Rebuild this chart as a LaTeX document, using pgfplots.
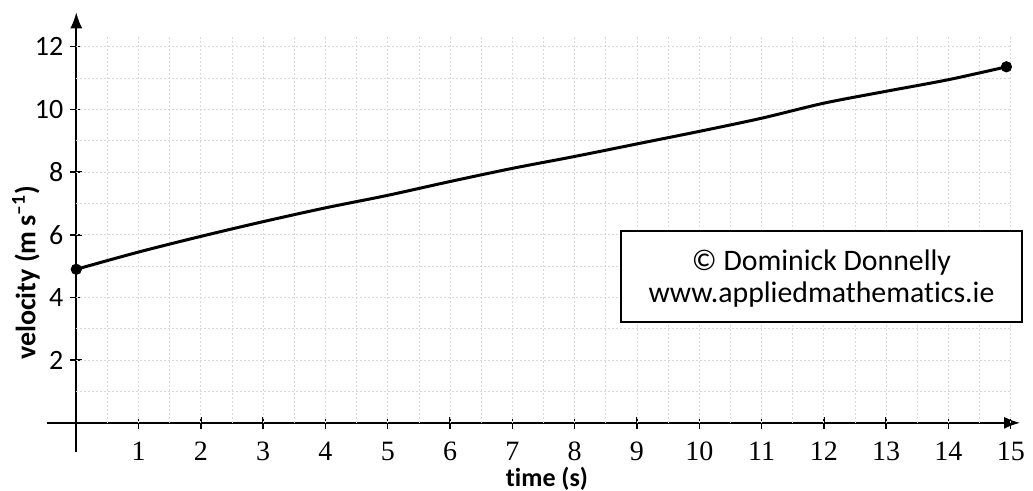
\documentclass[border=0pt]{standalone}
\usepackage{fontspec}
\setmainfont{Carlito}[RawFeature=-liga]
\newfontfamily\serifnum{Liberation Serif}
\usepackage{pgfplots}
\pgfplotsset{compat=1.18}
\usetikzlibrary{arrows.meta}
\begin{document}
\begin{tikzpicture}
\useasboundingbox (0,0) rectangle (516.5pt,245.5pt);
\begin{axis}[
  at={(23.5pt,19.5pt)}, anchor=south west,
  x=31.15pt, y=15.67pt,
  xmin=-0.47, xmax=15.15, ymin=-0.93, ymax=13.1,
  axis lines=middle,
  axis line style={line width=0.9pt, -{Latex[length=8pt,width=6pt]}},
  xtick={1,...,15}, ytick={2,4,...,12},
  /pgf/number format/assume math mode=true,
  xticklabel style={font=\serifnum\fontsize{14}{16}\selectfont, yshift=-3pt},
  yticklabel style={font=\fontsize{14}{16}\selectfont},
  tick style={black, line width=0.7pt},
  major tick length=6pt,
  tick align=center,
  clip=false,
]
\pgfplotsinvokeforeach{0.5,1,...,15}{
  \draw[gray!30, line width=0.4pt, dash pattern=on 1pt off 1pt] (axis cs:#1,0) -- (axis cs:#1,12.3);
}
\pgfplotsinvokeforeach{1,2,...,12}{
  \draw[gray!30, line width=0.4pt, dash pattern=on 1pt off 1pt] (axis cs:0,#1) -- (axis cs:15,#1);
}
\addplot[black, line width=1.5pt, smooth] coordinates {
(0,4.9) (1,5.45) (2,5.95) (3,6.42) (4,6.86) (5,7.26) (6,7.7) (7,8.12) (8,8.5) (9,8.9) (10,9.3) (11,9.72) (12,10.2) (13,10.58) (14,10.95) (14.93,11.36)
};
\addplot[only marks, mark=*, mark size=2.6pt, black] coordinates {(0,4.9) (14.93,11.36)};
\end{axis}
\node[font=\bfseries\fontsize{14}{16}\selectfont, rotate=90] at (13pt,109pt) {velocity (m\,s\textsuperscript{–1})};
\node[font=\bfseries\fontsize{13}{15}\selectfont, anchor=base] at (273.5pt,2pt) {time (s)};
\draw[line width=0.8pt, fill=white] (310.5pt,84.5pt) rectangle (511pt,130pt);
\node[font=\fontsize{14.9}{17}\selectfont] at (410.75pt,114pt) {© Dominick Donnelly};
\node[font=\fontsize{14.9}{17}\selectfont] at (410.75pt,98pt) {www.appliedmathematics.ie};
\end{tikzpicture}
\end{document}
